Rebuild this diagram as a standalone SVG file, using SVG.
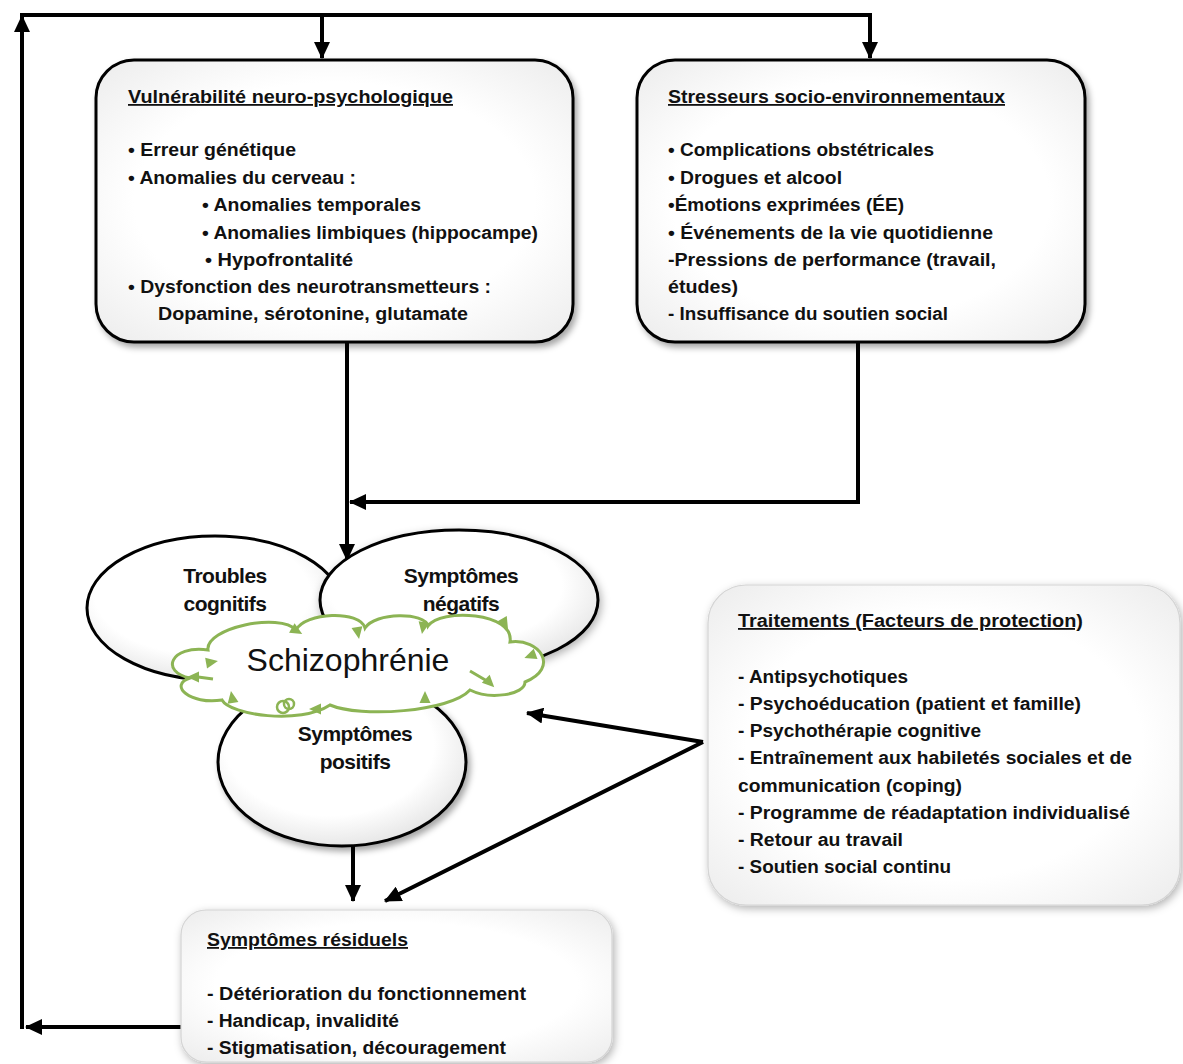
<svg xmlns="http://www.w3.org/2000/svg" xmlns:xlink="http://www.w3.org/1999/xlink" width="1183" height="1064" viewBox="0 0 1183 1064">
<style>
.t{font-family:"Liberation Sans",Arial,sans-serif;font-weight:bold;font-size:18px;fill:#111}
.u{text-decoration:underline}
.el{font-family:"Liberation Sans",Arial,sans-serif;font-weight:bold;font-size:21px;fill:#111;text-anchor:middle;letter-spacing:-0.5px}
.con{fill:none;stroke:#000;stroke-width:4}
.box{fill:url(#bg);stroke:#000;stroke-width:3}
.sbox{fill:url(#bg);stroke:#d4d4d4;stroke-width:1.2}
.ell{fill:url(#eg);stroke:#000;stroke-width:3}
.ga{fill:#8cb454}
</style>
<defs>
<marker id="ah" markerUnits="userSpaceOnUse" markerWidth="18" markerHeight="16" refX="16" refY="8" orient="auto">
<path d="M0,0 L17,8 L0,16 Z" fill="#000"/>
</marker>
<radialGradient id="bg" cx="50%" cy="50%" r="70%">
<stop offset="0.6" stop-color="#ffffff"/>
<stop offset="1" stop-color="#ececec"/>
</radialGradient>
<radialGradient id="eg" cx="45%" cy="40%" r="60%">
<stop offset="0.7" stop-color="#ffffff"/>
<stop offset="1" stop-color="#e8e8e8"/>
</radialGradient>
<filter id="sh" x="-10%" y="-10%" width="125%" height="125%">
<feDropShadow dx="3" dy="4" stdDeviation="3" flood-color="#000" flood-opacity="0.35"/>
</filter>
<filter id="sh2" x="-10%" y="-10%" width="125%" height="125%">
<feDropShadow dx="2" dy="3" stdDeviation="4" flood-color="#000" flood-opacity="0.3"/>
</filter>
<path id="ga" d="M-6,-5.5 L6,0 L-6,5.5 Z"/>
</defs>

<g id="connectors">
<path class="con" d="M182 1027 H26" marker-end="url(#ah)"/>
<path class="con" d="M22 1029 V16" marker-end="url(#ah)"/>
<path class="con" d="M20 15 H870 V58" marker-end="url(#ah)"/>
<path class="con" d="M322 15 V58" marker-end="url(#ah)"/>
<path class="con" d="M347 342 V560" marker-end="url(#ah)"/>
<path class="con" d="M858 342 V502 H350" marker-end="url(#ah)"/>
<path class="con" d="M703 742 L527 713" marker-end="url(#ah)"/>
<path class="con" d="M703 742 L385 901" marker-end="url(#ah)"/>
<path class="con" d="M353 843 V901" marker-end="url(#ah)"/>
</g>

<g id="vulnerabilite">
<rect class="box" x="96" y="60" width="477" height="282" rx="38" filter="url(#sh)"/>
<text class="t u" x="128" y="103" textLength="325" lengthAdjust="spacingAndGlyphs">Vulnérabilité neuro-psychologique</text>
<text class="t" x="128" y="156" textLength="168" lengthAdjust="spacingAndGlyphs">• Erreur génétique</text>
<text class="t" x="128" y="184" textLength="228" lengthAdjust="spacingAndGlyphs">• Anomalies du cerveau :</text>
<text class="t" x="202" y="211" textLength="219" lengthAdjust="spacingAndGlyphs">• Anomalies temporales</text>
<text class="t" x="202" y="239" textLength="336" lengthAdjust="spacingAndGlyphs">• Anomalies limbiques (hippocampe)</text>
<text class="t" x="205" y="266" textLength="148" lengthAdjust="spacingAndGlyphs">• Hypofrontalité</text>
<text class="t" x="128" y="293" textLength="363" lengthAdjust="spacingAndGlyphs">• Dysfonction des neurotransmetteurs :</text>
<text class="t" x="158" y="320" textLength="310" lengthAdjust="spacingAndGlyphs">Dopamine, sérotonine, glutamate</text>
</g>

<g id="stresseurs">
<rect class="box" x="637" y="60" width="448" height="282" rx="38" filter="url(#sh)"/>
<text class="t u" x="668" y="103" textLength="337" lengthAdjust="spacingAndGlyphs">Stresseurs socio-environnementaux</text>
<text class="t" x="668" y="156" textLength="266" lengthAdjust="spacingAndGlyphs">• Complications obstétricales</text>
<text class="t" x="668" y="184" textLength="174" lengthAdjust="spacingAndGlyphs">• Drogues et alcool</text>
<text class="t" x="668" y="211" textLength="236" lengthAdjust="spacingAndGlyphs">•Émotions exprimées (ÉE)</text>
<text class="t" x="668" y="239" textLength="325" lengthAdjust="spacingAndGlyphs">• Événements de la vie quotidienne</text>
<text class="t" x="668" y="266" textLength="328" lengthAdjust="spacingAndGlyphs">-Pressions de performance (travail,</text>
<text class="t" x="668" y="293" textLength="70" lengthAdjust="spacingAndGlyphs">études)</text>
<text class="t" x="668" y="320" textLength="280" lengthAdjust="spacingAndGlyphs">- Insuffisance du soutien social</text>
</g>

<g id="troubles-cognitifs">
<ellipse class="ell" cx="215" cy="608" rx="128" ry="72"/>
<text class="el" x="225" y="583">Troubles</text>
<text class="el" x="225" y="611">cognitifs</text>
</g>

<g id="symptomes-negatifs">
<ellipse class="ell" cx="459" cy="600" rx="139" ry="70" filter="url(#sh2)"/>
<text class="el" x="461" y="583">Symptômes</text>
<text class="el" x="461" y="611">négatifs</text>
</g>

<g id="symptomes-positifs">
<ellipse class="ell" cx="342" cy="762" rx="124" ry="84" filter="url(#sh)"/>
<text class="el" x="355" y="741">Symptômes</text>
<text class="el" x="355" y="769">positifs</text>
</g>

<g id="schizophrenie">
<path d="M208 650 C205 628 280 612 296 630 C305 612 360 610 365 628 C375 612 425 612 428 626 C440 608 515 612 510 642 C540 638 560 668 525 682 C525 695 490 700 470 690 C450 712 360 718 330 705 C300 725 230 715 222 700 C190 705 168 685 190 678 C160 672 170 645 208 650 Z" fill="#fff" stroke="#8cb454" stroke-width="3"/>
<path d="M470 671 L487 681 M213 679 L198 677" stroke="#8cb454" stroke-width="3" fill="none"/>
<g class="ga">
<use xlink:href="#ga" transform="translate(297,631) rotate(30)"/>
<use xlink:href="#ga" transform="translate(358,633) rotate(80)"/>
<use xlink:href="#ga" transform="translate(423,628) rotate(100)"/>
<use xlink:href="#ga" transform="translate(505,624) rotate(60)"/>
<use xlink:href="#ga" transform="translate(530,656) rotate(160)"/>
<use xlink:href="#ga" transform="translate(490,683) rotate(45)"/>
<use xlink:href="#ga" transform="translate(425,697) rotate(-90)"/>
<use xlink:href="#ga" transform="translate(315,709) rotate(180)"/>
<use xlink:href="#ga" transform="translate(232,697) rotate(-100)"/>
<use xlink:href="#ga" transform="translate(193,677) rotate(180)"/>
<use xlink:href="#ga" transform="translate(212,662) rotate(-10)"/>
</g>
<circle cx="283" cy="707" r="6" fill="none" stroke="#8cb454" stroke-width="2.5"/>
<circle cx="289" cy="704" r="5" fill="none" stroke="#8cb454" stroke-width="2.5"/>
<text x="348" y="671" text-anchor="middle" font-family="Liberation Sans, Arial, sans-serif" font-size="32" fill="#111">Schizophrénie</text>
</g>

<g id="traitements">
<rect class="sbox" x="708" y="585" width="472" height="320" rx="38" filter="url(#sh2)"/>
<text class="t u" x="738" y="627" textLength="345" lengthAdjust="spacingAndGlyphs">Traitements (Facteurs de protection)</text>
<text class="t" x="738" y="683" textLength="170" lengthAdjust="spacingAndGlyphs">- Antipsychotiques</text>
<text class="t" x="738" y="710" textLength="343" lengthAdjust="spacingAndGlyphs">- Psychoéducation (patient et famille)</text>
<text class="t" x="738" y="737" textLength="243" lengthAdjust="spacingAndGlyphs">- Psychothérapie cognitive</text>
<text class="t" x="738" y="764" textLength="394" lengthAdjust="spacingAndGlyphs">- Entraînement aux habiletés sociales et de</text>
<text class="t" x="738" y="792" textLength="224" lengthAdjust="spacingAndGlyphs">communication (coping)</text>
<text class="t" x="738" y="819" textLength="392" lengthAdjust="spacingAndGlyphs">- Programme de réadaptation individualisé</text>
<text class="t" x="738" y="846" textLength="165" lengthAdjust="spacingAndGlyphs">- Retour au travail</text>
<text class="t" x="738" y="873" textLength="213" lengthAdjust="spacingAndGlyphs">- Soutien social continu</text>
</g>

<g id="symptomes-residuels">
<rect class="sbox" x="181" y="910" width="431" height="152" rx="25" filter="url(#sh2)"/>
<text class="t u" x="207" y="946" textLength="201" lengthAdjust="spacingAndGlyphs">Symptômes résiduels</text>
<text class="t" x="207" y="1000" textLength="319" lengthAdjust="spacingAndGlyphs">- Détérioration du fonctionnement</text>
<text class="t" x="207" y="1027" textLength="192" lengthAdjust="spacingAndGlyphs">- Handicap, invalidité</text>
<text class="t" x="207" y="1054" textLength="299" lengthAdjust="spacingAndGlyphs">- Stigmatisation, découragement</text>
</g>
</svg>
